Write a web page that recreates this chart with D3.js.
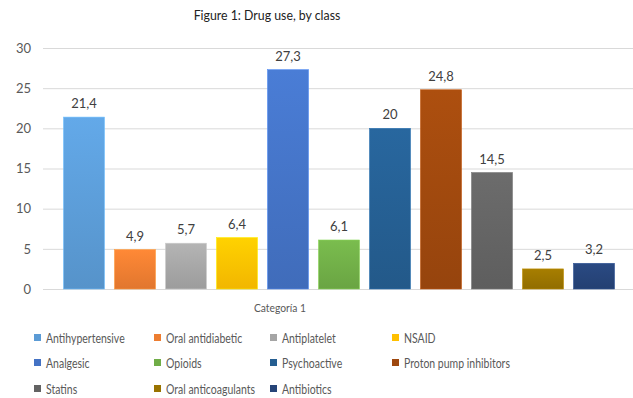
<!DOCTYPE html>
<html>
<head>
<meta charset="utf-8">
<script src="https://cdn.jsdelivr.net/npm/d3@7"></script>
<style>
  body { margin: 0; background: #fff; }
  svg text { font-family: Lato, "Open Sans", sans-serif; }
</style>
</head>
<body>
<script>
// chart data
var classes = ["Antihypertensive", "Oral antidiabetic", "Antiplatelet", "NSAID",
  "Analgesic", "Opioids", "Psychoactive", "Proton pump inhibitors",
  "Statins", "Oral anticoagulants", "Antibiotics"];
var values = [21.4, 4.9, 5.7, 6.4, 27.3, 6.1, 20, 24.8, 14.5, 2.5, 3.2];
var colors = ["#5B9BD5", "#ED7D31", "#A5A5A5", "#FFC000", "#4472C4", "#70AD47",
  "#255E91", "#9E480E", "#636363", "#997300", "#264478"];
var yTicks = [0, 5, 10, 15, 20, 25, 30];
var category = "Categoría 1";
var title = "Figure 1: Drug use, by class";

var width = 633, height = 398;
var plotLeft = 43, plotRight = 633, plotTop = 48, plotBottom = 289;

var svg = d3.select("body").append("svg")
    .attr("width", width)
    .attr("height", height);

var defs = svg.append("defs");
colors.forEach(function(c, i) {
  var g = defs.append("linearGradient")
      .attr("id", "grad" + i)
      .attr("x1", 0).attr("y1", 0).attr("x2", 0).attr("y2", 1);
  g.append("stop").attr("offset", "0%").attr("stop-color", d3.color(c).brighter(0.25));
  g.append("stop").attr("offset", "100%").attr("stop-color", d3.color(c).darker(0.15));
});

var y = d3.scaleLinear().domain([0, 30]).range([plotBottom, plotTop]);
var x = d3.scaleBand().domain(classes)
    .range([58.5, 619.5])
    .paddingInner(0.196)
    .paddingOuter(0.098);

// Lato is wider than the Calibri of the original, so squeeze a bit
var narrowText = function(parent, px, py, sx, size, anchor, color, str) {
  return parent.append("g")
      .attr("transform", "translate(" + px + "," + py + ") scale(" + sx + ",1)")
    .append("text")
      .attr("text-anchor", anchor)
      .attr("font-size", size)
      .attr("fill", color)
      .text(str);
};

// title
narrowText(svg, 267, 20, 0.88, 14, "middle", "#222", title);

// y axis with gridlines
var yAxis = svg.append("g")
    .attr("transform", "translate(" + plotLeft + ",0)")
    .call(d3.axisLeft(y).tickValues(yTicks).tickSize(-(plotRight - plotLeft)).tickPadding(12));
yAxis.select(".domain").remove();
yAxis.selectAll(".tick line").attr("stroke", "#D9D9D9").attr("stroke-width", 1);
yAxis.selectAll(".tick text")
    .attr("font-size", 13)
    .attr("fill", "#595959")
    .style("font-family", "Lato, sans-serif");

// bars
svg.selectAll("rect.bar")
    .data(values)
    .enter()
    .append("rect")
    .attr("class", "bar")
    .attr("x", function(d, i) { return x(classes[i]); })
    .attr("y", function(d) { return y(d); })
    .attr("width", x.bandwidth())
    .attr("height", function(d) { return y(0) - y(d); })
    .attr("fill", function(d, i) { return "url(#grad" + i + ")"; })
    .attr("stroke", function(d, i) { return d3.color(colors[i]).brighter(0.6); })
    .attr("stroke-width", 0.6);

// data labels
svg.selectAll("text.lbl")
    .data(values)
    .enter()
    .append("text")
    .attr("class", "lbl")
    .attr("x", function(d, i) { return x(classes[i]) + x.bandwidth() / 2; })
    .attr("y", function(d) { return y(d) - 9; })
    .attr("text-anchor", "middle")
    .attr("font-size", 13)
    .attr("fill", "#404040")
    .text(function(d) { return String(d).replace(".", ","); });

// category axis title
narrowText(svg, 280, 312, 0.86, 12, "middle", "#595959", category);

// legend
var colX = [37, 157, 273, 395];
var rowY = [338, 363, 389];
classes.forEach(function(name, i) {
  var gx = colX[i % 4], gy = rowY[Math.floor(i / 4)];
  svg.append("rect")
      .attr("x", gx - 3).attr("y", gy - 4)
      .attr("width", 7).attr("height", 7)
      .attr("fill", colors[i]);
  narrowText(svg, gx + 9, gy + 4.5, 0.84, 12.5, "start", "#595959", name);
});
</script>
</body>
</html>
